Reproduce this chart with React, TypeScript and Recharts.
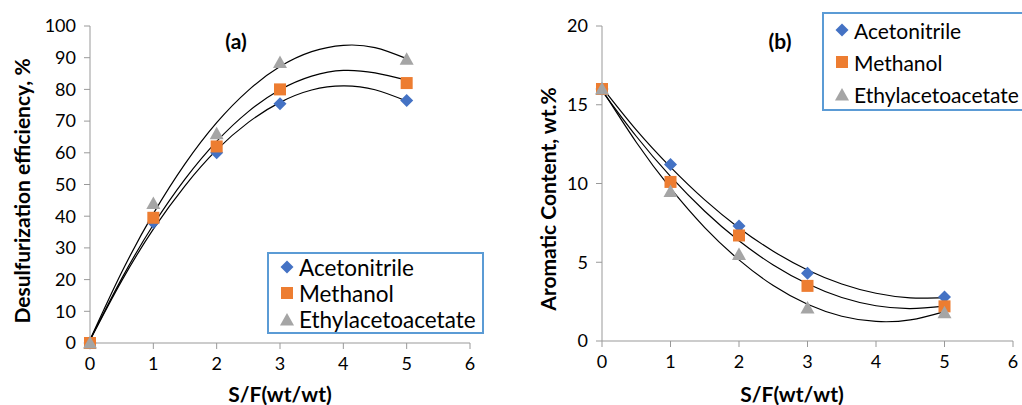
import React from 'react';
import { ComposedChart, Line, Scatter, XAxis, YAxis } from 'recharts';

// measured points
const sfRatio = [0, 1, 2, 3, 5];
const desulfAcetonitrile = [0, 38, 60, 75.5, 76.5];
const desulfMethanol = [0, 39.5, 62, 80, 82];
const desulfEthyl = [0, 44, 66, 88.5, 89.5];
const aromAcetonitrile = [16, 11.2, 7.3, 4.3, 2.8];
const aromMethanol = [16, 10.1, 6.7, 3.5, 2.2];
const aromEthyl = [16, 9.5, 5.5, 2.1, 1.8];

// trendlines (poly, order 2)
const trendX = [0, 0.5, 1, 1.5, 2, 2.5, 3, 3.5, 4, 4.5, 5];
const desulfTrendAcetonitrile = [0.9, 19.6, 35.9, 49.6, 60.9, 69.6, 75.9, 79.8, 81.1, 79.9, 76.3];
const desulfTrendMethanol = [0.9, 20.3, 37.3, 51.7, 63.6, 73.0, 79.9, 84.2, 86.0, 85.2, 82.9];
const desulfTrendEthyl = [1.0, 22.3, 40.8, 56.5, 69.5, 79.7, 87.2, 91.9, 93.9, 93.2, 89.7];
const aromTrendAcetonitrile = [16.1, 13.4, 11.04, 8.96, 7.18, 5.7, 4.51, 3.62, 3.03, 2.74, 2.75];
const aromTrendMethanol = [15.89, 13.0, 10.45, 8.24, 6.36, 4.83, 3.63, 2.76, 2.24, 2.06, 2.21];
const aromTrendEthyl = [15.96, 12.62, 9.7, 7.2, 5.15, 3.52, 2.33, 1.57, 1.24, 1.34, 1.87];

const xTicks = [0, 1, 2, 3, 4, 5, 6];
const desulfTicks = [0, 10, 20, 30, 40, 50, 60, 70, 80, 90, 100];
const aromTicks = [0, 5, 10, 15, 20];

const seriesNames = ['Acetonitrile', 'Methanol', 'Ethylacetoacetate'];

const BLUE = '#4472C4';
const ORANGE = '#ED7D31';
const GRAY = '#A5A5A5';
const AXIS = '#999999';
const FONT = 'Lato, "Liberation Sans", sans-serif';

const toPoints = (xs: number[], ys: number[]) => xs.map((x, i) => ({ x, y: ys[i] }));

const Diamond = (props: any) => {
  const { cx, cy } = props;
  return <path d={`M${cx},${cy - 6.5}L${cx + 6.5},${cy}L${cx},${cy + 6.5}L${cx - 6.5},${cy}Z`} fill={BLUE} />;
};
const Square = (props: any) => {
  const { cx, cy } = props;
  return <rect x={cx - 6} y={cy - 6} width={12} height={12} fill={ORANGE} />;
};
const Triangle = (props: any) => {
  const { cx, cy } = props;
  return <path d={`M${cx},${cy - 7}L${cx + 7},${cy + 5.5}L${cx - 7},${cy + 5.5}Z`} fill={GRAY} />;
};

function LegendMarker({ idx }: { idx: number }) {
  return (
    <svg width={16} height={16} style={{ display: 'block', flex: 'none' }}>
      {idx === 0 && <Diamond cx={8} cy={8} />}
      {idx === 1 && <Square cx={8} cy={8} />}
      {idx === 2 && <Triangle cx={8} cy={9} />}
    </svg>
  );
}

function LegendBox({ left, top, width, height, rowH, fontSize }: any) {
  return (
    <div
      style={{
        position: 'absolute',
        left,
        top,
        width,
        height,
        border: '2px solid #5B9BD5',
        background: '#fff',
        boxSizing: 'border-box',
        paddingLeft: 10,
        fontFamily: FONT,
        fontSize,
        color: '#000',
      }}
    >
      {seriesNames.map((n, i) => (
        <div key={n} style={{ display: 'flex', alignItems: 'center', height: rowH, whiteSpace: 'nowrap' }}>
          <LegendMarker idx={i} />
          <span style={{ marginLeft: 4 }}>{n}</span>
        </div>
      ))}
    </div>
  );
}

const tickStyle = { fontSize: 18, fill: '#000', fontFamily: FONT };

function Panel({ width, margin, yTicks, yDomain, pts, trends }: any) {
  return (
    <ComposedChart width={width} height={405} margin={margin}>
      <XAxis
        type="number"
        dataKey="x"
        domain={[0, 6]}
        ticks={xTicks}
        height={30}
        stroke={AXIS}
        tick={tickStyle}
        tickMargin={8}
      />
      <YAxis
        type="number"
        dataKey="y"
        domain={yDomain}
        ticks={yTicks}
        width={40}
        stroke={AXIS}
        tick={tickStyle}
        tickMargin={8}
      />
      <Scatter data={pts[0]} shape={<Diamond />} isAnimationActive={false} />
      <Scatter data={pts[1]} shape={<Square />} isAnimationActive={false} />
      <Scatter data={pts[2]} shape={<Triangle />} isAnimationActive={false} />
      {trends.map((t: any, i: number) => (
        <Line
          key={i}
          data={t}
          dataKey="y"
          type="natural"
          stroke="#000"
          strokeWidth={1.2}
          dot={false}
          activeDot={false}
          isAnimationActive={false}
        />
      ))}
    </ComposedChart>
  );
}

const abs = (s: React.CSSProperties): React.CSSProperties => ({ position: 'absolute', ...s });

export default function App() {
  const desulfPts = [
    toPoints(sfRatio, desulfAcetonitrile),
    toPoints(sfRatio, desulfMethanol),
    toPoints(sfRatio, desulfEthyl),
  ];
  const desulfTrends = [
    toPoints(trendX, desulfTrendAcetonitrile),
    toPoints(trendX, desulfTrendMethanol),
    toPoints(trendX, desulfTrendEthyl),
  ];
  const aromPts = [
    toPoints(sfRatio, aromAcetonitrile),
    toPoints(sfRatio, aromMethanol),
    toPoints(sfRatio, aromEthyl),
  ];
  const aromTrends = [
    toPoints(trendX, aromTrendAcetonitrile),
    toPoints(trendX, aromTrendMethanol),
    toPoints(trendX, aromTrendEthyl),
  ];

  const bold: React.CSSProperties = { fontFamily: FONT, fontWeight: 700, fontSize: 21, color: '#000', whiteSpace: 'nowrap' };

  return (
    <div style={{ position: 'absolute', left: 0, top: 0, width: 1022, height: 405, overflow: 'hidden', background: '#fff' }}>
      <div style={abs({ left: 0, top: 0 })}>
        <Panel
          width={500}
          margin={{ top: 26, right: 30, bottom: 32, left: 50 }}
          yTicks={desulfTicks}
          yDomain={[0, 100]}
          pts={desulfPts}
          trends={desulfTrends}
        />
      </div>
      <div style={abs({ left: 510, top: 0 })}>
        <Panel
          width={512}
          margin={{ top: 26, right: 9, bottom: 34, left: 52 }}
          yTicks={aromTicks}
          yDomain={[0, 20]}
          pts={aromPts}
          trends={aromTrends}
        />
      </div>

      <div style={abs({ ...bold, left: 236, top: 40, transform: 'translate(-50%,-50%)' })}>(a)</div>
      <div style={abs({ ...bold, left: 780, top: 40, transform: 'translate(-50%,-50%)' })}>(b)</div>

      <div style={abs({ ...bold, left: 280, top: 393, transform: 'translate(-50%,-50%)' })}>S/F(wt/wt)</div>
      <div style={abs({ ...bold, left: 792, top: 393, transform: 'translate(-50%,-50%)' })}>S/F(wt/wt)</div>

      <div style={abs({ ...bold, left: 21, top: 191, transform: 'translate(-50%,-50%) rotate(-90deg)' })}>
        Desulfurization efficiency, %
      </div>
      <div style={abs({ ...bold, left: 547, top: 199, transform: 'translate(-50%,-50%) rotate(-90deg)' })}>
        Aromatic Content, wt.%
      </div>

      <LegendBox left={267} top={252} width={217} height={82} rowH={26} fontSize={22.5} />
      <LegendBox left={822} top={12} width={230} height={99} rowH={32} fontSize={21} />
    </div>
  );
}
